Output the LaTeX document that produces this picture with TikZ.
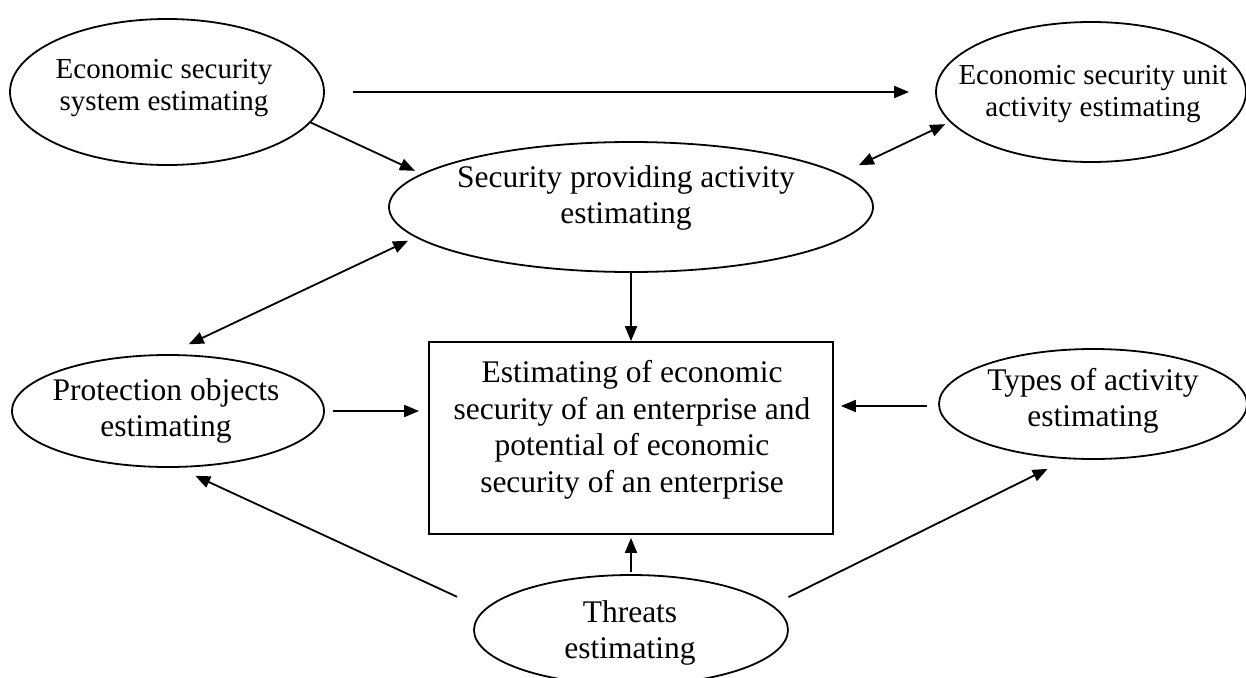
\documentclass[tikz,border=0pt]{standalone}
\usepackage{fontspec}
\setmainfont{Liberation Serif}
\usetikzlibrary{arrows.meta,shapes.geometric,calc}
\begin{document}
\begin{tikzpicture}[x=1pt,y=-1pt,
  oval/.style={draw,ellipse,line width=1.8pt,inner sep=0pt},
  boxst/.style={draw,rectangle,line width=1.8pt,inner sep=0pt},
  lbl/.style={align=center,inner sep=0pt,font=\fontsize{31.5}{36.5}\selectfont},
  lbls/.style={align=center,inner sep=0pt,font=\fontsize{29}{32}\selectfont},
  arr/.style={-{Triangle[length=15pt,width=12pt]},line width=1.8pt},
  darr/.style={{Triangle[length=15pt,width=12pt]}-{Triangle[length=15pt,width=12pt]},line width=1.8pt}]
\useasboundingbox (0,0) rectangle (1246,677);
% shapes
\node[oval,minimum width=314pt,minimum height=146pt] (e1) at (167,92) {};
\node[oval,minimum width=310pt,minimum height=140pt] (e2) at (1091,92) {};
\node[oval,minimum width=484pt,minimum height=130pt] (e3) at (631,207) {};
\node[boxst,minimum width=404pt,minimum height=192pt] (box) at (631,438) {};
\node[oval,minimum width=312pt,minimum height=112pt] (e4) at (168,411) {};
\node[oval,minimum width=308pt,minimum height=110pt] (e5) at (1093,404) {};
\node[oval,minimum width=314pt,minimum height=110pt] (e7) at (631,630) {};
% texts
\node[lbls] (t1) at (164,88) {Economic security\\system estimating};
\node[lbls] (t2) at (1093,94) {Economic security unit\\activity estimating};
\node[lbl] (t3) at (626,198) {Security providing activity\\estimating};
\node[lbl] (tb) at (632,430) {Estimating of economic\\security of an enterprise and\\potential of economic\\security of an enterprise};
\node[lbl] (t4) at (166,411) {Protection objects\\estimating};
\node[lbl] (t5) at (1093,401) {Types of activity\\estimating};
\node[lbl] (t7) at (630,633) {Threats\\estimating};
% connectors
\draw[arr,shorten <=28pt,shorten >=26pt] (e1.east) -- (e2.west);
\draw[arr,shorten >=7pt] (e1.-12) -- (e3.171);
\draw[darr,shorten <=20pt,shorten >=5pt] (e3.9) -- (e2.192);
\draw[darr,shorten <=8pt,shorten >=23pt] (e3.188) -- (e4.north);
\draw[arr] (e3.south) -- (box.north);
\draw[arr,shorten <=8pt,shorten >=9pt] (e4.east) -- (e4.east -| box.west);
\draw[arr,shorten <=11pt,shorten >=7pt] ([yshift=-2pt]e5.west) -- ([yshift=-2pt]e5.west -| box.east);
\draw[arr,shorten <=2pt,shorten >=3pt] (e7.north) -- (box.south);
\draw[arr,shorten <=30pt,shorten >=19pt] (e7.172) -- (e4.-80);
\draw[arr,shorten <=18pt,shorten >=22pt] (e7.10) -- (e5.-115);
\end{tikzpicture}
\end{document}
